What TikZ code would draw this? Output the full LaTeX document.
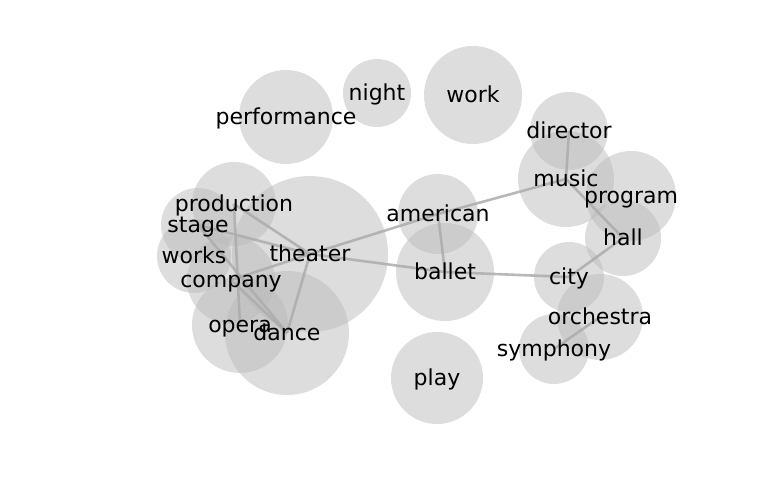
\documentclass[tikz,border=0pt]{standalone}
\usepackage{fontspec}
\setmainfont{DejaVu Sans}
\definecolor{circ}{RGB}{187,187,187}
\definecolor{edge}{RGB}{172,172,172}
\begin{document}
\begin{tikzpicture}[x=1pt,y=-1pt,
  bub/.style={circle,fill=circ,fill opacity=0.5,draw=none,inner sep=0pt,minimum size=#1},
  lnk/.style={draw=edge,line width=2.6pt,draw opacity=0.85},
  lbl/.style={inner sep=0pt,font=\fontsize{22}{26}\selectfont,text=black,text height=16.7pt,text depth=4.6pt,yshift=-1.6pt}]
\useasboundingbox (0,0) rectangle (768,500);
% bubbles
\node[bub=94pt]  (performance) at (286,117) {};
\node[bub=68pt]  (night) at (377,93) {};
\node[bub=98pt]  (work) at (473,95) {};
\node[bub=78pt]  (director) at (569,131) {};
\node[bub=96pt]  (music) at (566,179) {};
\node[bub=90pt]  (program) at (631,196) {};
\node[bub=76pt]  (hall) at (623,238) {};
\node[bub=80pt]  (american) at (438,214) {};
\node[bub=98pt]  (ballet) at (445,272) {};
\node[bub=70pt]  (city) at (569,277) {};
\node[bub=86pt]  (orchestra) at (600,317) {};
\node[bub=70pt]  (symphony) at (554,349) {};
\node[bub=92pt]  (play) at (437,378) {};
\node[bub=156pt] (theater) at (310,254) {};
\node[bub=84pt]  (production) at (234,204) {};
\node[bub=74pt]  (stage) at (198,225) {};
\node[bub=74pt]  (works) at (194,256) {};
\node[bub=88pt]  (company) at (231,280) {};
\node[bub=96pt]  (opera) at (240,325) {};
\node[bub=124pt] (dance) at (287,333) {};
% links
\draw[lnk] (theater.center) -- (american.center);
\draw[lnk] (american.center) -- (music.center);
\draw[lnk] (american.center) -- (ballet.center);
\draw[lnk] (theater.center) -- (ballet.center);
\draw[lnk] (ballet.center) -- (city.center);
\draw[lnk] (music.center) -- (director.center);
\draw[lnk] (music.center) -- (hall.center);
\draw[lnk] (hall.center) -- (city.center);
\draw[lnk] (orchestra.center) -- (symphony.center);
\draw[lnk] (theater.center) -- (production.center);
\draw[lnk] (theater.center) -- (stage.center);
\draw[lnk] (theater.center) -- (company.center);
\draw[lnk] (theater.center) -- (dance.center);
\draw[lnk] (stage.center) -- (dance.center);
\draw[lnk] (company.center) -- (dance.center);
\draw[lnk] (production.center) -- (opera.center);
% labels
\foreach \n in {performance,night,work,director,music,program,hall,american,ballet,city,orchestra,symphony,play,theater,production,stage,works,company,opera,dance}
  \node[lbl] (t-\n) at (\n.center) {\n};
\end{tikzpicture}
\end{document}
